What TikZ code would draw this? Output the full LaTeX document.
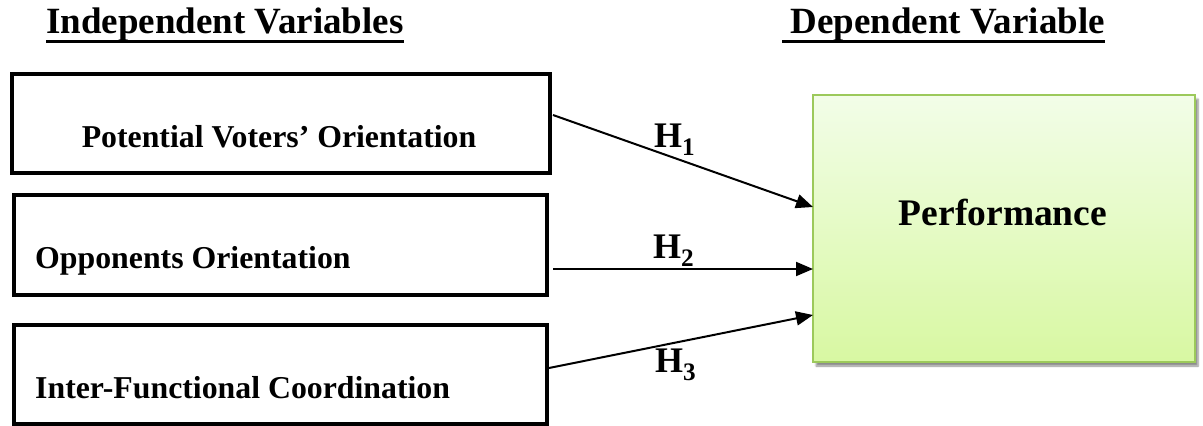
\documentclass[tikz,border=0pt]{standalone}
\usepackage{fontspec}
\setmainfont{Liberation Serif}
\usetikzlibrary{arrows.meta,shadows,shadows.blur,calc}
\definecolor{perfborder}{HTML}{9CC95B}
\definecolor{perftop}{HTML}{F2FDE8}
\definecolor{perfbot}{HTML}{D8F8A2}
\tikzset{
  varbox/.style={draw=black, line width=4pt, inner sep=0pt, outer sep=0pt, anchor=north west},
  boxtext/.style={font=\fontsize{31.8}{36}\selectfont\bfseries, inner sep=0pt},
  titletext/.style={font=\fontsize{37}{44}\selectfont\bfseries, inner sep=0pt},
  hlabel/.style={font=\fontsize{36}{40}\selectfont\bfseries, inner sep=0pt, anchor=base west},
  link/.style={line width=2pt, -{Triangle[length=17pt,width=14pt]}},
  uline/.style={line width=3pt}
}
\begin{document}
\begin{tikzpicture}[x=1pt,y=-1pt]
\useasboundingbox (0,0) rectangle (1203,426);
% titles
\node[titletext, anchor=base west] (t1) at (46,33) {Independent Variables};
\node[titletext, anchor=base east] (t2) at (1105,33) {Dependent Variable};
\draw[uline] ([yshift=-8.5pt]t1.base west) -- ([yshift=-8.5pt]t1.base east);
\draw[uline] ([xshift=-8pt,yshift=-8.5pt]t2.base west) -- ([yshift=-8.5pt]t2.base east);
% independent variable boxes
\node[varbox, minimum width=538pt, minimum height=99pt] (b1) at (11.5,74) {};
\node[varbox, minimum width=533pt, minimum height=100pt] (b2) at (13.5,195) {};
\node[varbox, minimum width=533pt, minimum height=99pt] (b3) at (13.5,325) {};
\node[boxtext, anchor=base] (l1) at (279,147) {Potential Voters’ Orientation};
\node[boxtext, anchor=base west] (l2) at (35,268) {Opponents Orientation};
\node[boxtext, anchor=base west] (l3) at (35,398) {Inter-Functional Coordination};
% dependent variable box
\node[draw=perfborder, line width=2pt, top color=perftop, bottom color=perfbot,
      minimum width=382pt, minimum height=267pt, inner sep=0pt, outer sep=0pt,
      blur shadow={shadow xshift=3pt, shadow yshift=-4pt, shadow blur steps=6, shadow opacity=45}]
      (perf) at (1004,228.5) {};
\node[font=\fontsize{37.5}{42}\selectfont\bfseries, inner sep=0pt, anchor=base] (pt) at (1003,225) {Performance};
% arrows
\draw[link] ([xshift=3.5pt,yshift=8.5pt]b1.east) -- ([yshift=21.5pt]perf.west);
\draw[link] ([xshift=6.5pt,yshift=-24pt]b2.east) -- ([yshift=-40.5pt]perf.west);
\draw[link] ([xshift=2.5pt,yshift=6.5pt]b3.east) -- ([yshift=-86.5pt]perf.west);
% hypothesis labels
\node[hlabel] (h1) at (654,147) {H\textsubscript{1}};
\node[hlabel] (h2) at (653,258) {H\textsubscript{2}};
\node[hlabel] (h3) at (655,372) {H\textsubscript{3}};
\end{tikzpicture}
\end{document}
